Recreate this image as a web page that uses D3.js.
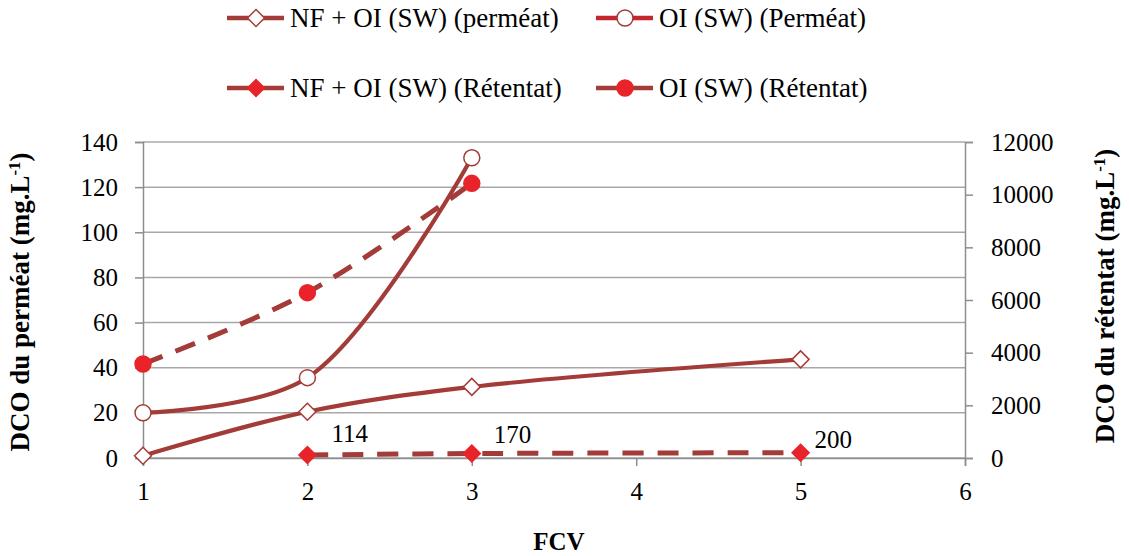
<!DOCTYPE html>
<html>
<head>
<meta charset="utf-8">
<script src="https://cdn.jsdelivr.net/npm/d3@7"></script>
<style>
  html, body { margin: 0; padding: 0; background: #fff; }
  svg, svg text { font-family: "Liberation Serif", "Times New Roman", Tinos, "DejaVu Serif", serif; }
</style>
</head>
<body>
<svg id="chart" width="1129" height="556"></svg>
<script>
// FCV values (x) and the four series
const fcvNfOi = [1, 2, 3, 5];
const fcvOi = [1, 2, 3];
const fcvNfOiRet = [2, 3, 5];

const nfOiPermeat = [1, 20.5, 31.5, 43.7];      // mg/L, left axis
const oiPermeat = [20, 35.6, 133];              // mg/L, left axis
const nfOiRetentat = [114, 170, 200];           // mg/L, right axis
const oiRetentat = [3570, 6280, 10430];         // mg/L, right axis

const xTicks = [1, 2, 3, 4, 5, 6];
const leftTicks = [0, 20, 40, 60, 80, 100, 120, 140];
const rightTicks = [0, 2000, 4000, 6000, 8000, 10000, 12000];

const serif = "'Liberation Serif', 'Times New Roman', Tinos, 'DejaVu Serif', serif";
const lineColor = "#A33B38";
const redFill = "#E8242A";
const gridColor = "#A8A8A8";
const axisColor = "#8E8E8E";

const svg = d3.select("#chart");

const x = d3.scaleLinear().domain([1, 6]).range([143, 965]);
const yL = d3.scaleLinear().domain([0, 140]).range([458, 142]);
const yR = d3.scaleLinear().domain([0, 12000]).range([458, 142]);

// horizontal gridlines
svg.append("g").selectAll("line").data(leftTicks).join("line")
  .attr("x1", x(1)).attr("x2", x(6))
  .attr("y1", d => yL(d)).attr("y2", d => yL(d))
  .attr("stroke", gridColor).attr("stroke-width", 1.5);

// axes
const axL = svg.append("g").attr("transform", `translate(${x(1)},0)`)
  .call(d3.axisLeft(yL).tickValues(leftTicks).tickSize(8).tickPadding(17).tickFormat(d3.format("d")));
const axR = svg.append("g").attr("transform", `translate(${x(6)},0)`)
  .call(d3.axisRight(yR).tickValues(rightTicks).tickSize(8).tickPadding(18).tickFormat(d3.format("d")));
const axB = svg.append("g").attr("transform", `translate(0,${yL(0)})`)
  .call(d3.axisBottom(x).tickValues(xTicks).tickSize(8).tickPadding(16).tickFormat(d3.format("d")));

[axL, axR, axB].forEach(ax => {
  ax.attr("font-family", serif);
  ax.select(".domain").attr("stroke", axisColor).attr("stroke-width", 1.5);
  ax.selectAll(".tick line").attr("stroke", axisColor).attr("stroke-width", 1.5);
  ax.selectAll(".tick text").attr("font-family", serif)
    .attr("font-size", 25).attr("fill", "#000");
});

// axis titles
function axisTitle(tx, ty, label) {
  const t = svg.append("text")
    .attr("transform", `translate(${tx},${ty}) rotate(-90)`)
    .attr("text-anchor", "middle").attr("font-size", 27).attr("font-weight", "bold")
    .attr("font-family", serif);
  t.append("tspan").text(label + " (mg.L");
  t.append("tspan").attr("baseline-shift", "super").attr("font-size", 17).text("-1");
  t.append("tspan").text(")");
}
axisTitle(29, 302, "DCO du perméat");
axisTitle(1114, 296, "DCO du rétentat");

svg.append("text")
  .attr("x", 559).attr("y", 550)
  .attr("text-anchor", "middle").attr("font-size", 25).attr("font-weight", "bold")
  .attr("font-family", serif)
  .text("FCV");

// series definitions
const curve = d3.curveCatmullRom.alpha(0.5);
const series = [
  { name: "NF + OI (SW) (perméat)", xs: fcvNfOi, ys: nfOiPermeat, scale: yL, dash: null, marker: "diamond", filled: false },
  { name: "OI (SW) (Perméat)", xs: fcvOi, ys: oiPermeat, scale: yL, dash: null, marker: "circle", filled: false },
  { name: "NF + OI (SW) (Rétentat)", xs: fcvNfOiRet, ys: nfOiRetentat, scale: yR, dash: "21,14", marker: "diamond", filled: true, labels: true },
  { name: "OI (SW) (Rétentat)", xs: fcvOi, ys: oiRetentat, scale: yR, dash: "21,14", marker: "circle", filled: true }
];

function drawMarker(g, type, filled, cx, cy) {
  if (type === "circle") {
    g.append("circle").attr("cx", cx).attr("cy", cy).attr("r", 8)
      .attr("fill", filled ? redFill : "#fff")
      .attr("stroke", filled ? redFill : lineColor).attr("stroke-width", 1.5);
  } else {
    const s = 8.5;
    g.append("path")
      .attr("d", `M${cx},${cy - s}L${cx + s},${cy}L${cx},${cy + s}L${cx - s},${cy}Z`)
      .attr("fill", filled ? redFill : "#fff")
      .attr("stroke", filled ? redFill : lineColor).attr("stroke-width", 1.5);
  }
}

const plot = svg.append("g");
series.forEach(s => {
  const pts = s.xs.map((d, i) => [x(d), s.scale(s.ys[i])]);
  plot.append("path")
    .attr("d", d3.line().curve(curve)(pts))
    .attr("fill", "none").attr("stroke", lineColor)
    .attr("stroke-width", s.dash ? 5 : 4.2)
    .attr("stroke-dasharray", s.dash);
});
// value labels sit to the upper right of each point, the last one nudged closer
const labelNudge = [[24, -13], [22, -11], [14, -5]];
series.forEach(s => {
  s.xs.forEach((d, i) => drawMarker(plot, s.marker, s.filled, x(d), s.scale(s.ys[i])));
  if (s.labels) {
    s.xs.forEach((d, i) => {
      plot.append("text")
        .attr("x", x(d) + labelNudge[i][0]).attr("y", s.scale(s.ys[i]) + labelNudge[i][1])
        .attr("font-size", 25).attr("fill", "#000").attr("font-family", serif)
        .text(s.ys[i]);
    });
  }
});

// legend
const legendPos = [
  { lx: 227, ly: 18 },
  { lx: 596, ly: 18 },
  { lx: 227, ly: 88 },
  { lx: 596, ly: 88 }
];
series.forEach((s, i) => {
  const p = legendPos[i];
  const g = svg.append("g");
  const color = (i === 1) ? "#C3262C" : lineColor;
  g.append("line").attr("x1", p.lx).attr("x2", p.lx + 57)
    .attr("y1", p.ly).attr("y2", p.ly)
    .attr("stroke", color).attr("stroke-width", 4.5);
  drawMarker(g, s.marker, s.filled, p.lx + 29, p.ly);
  g.append("text").attr("x", p.lx + 63).attr("y", p.ly + 9)
    .attr("font-size", 27).attr("fill", "#000").attr("font-family", serif).text(s.name);
});
</script>
</body>
</html>
